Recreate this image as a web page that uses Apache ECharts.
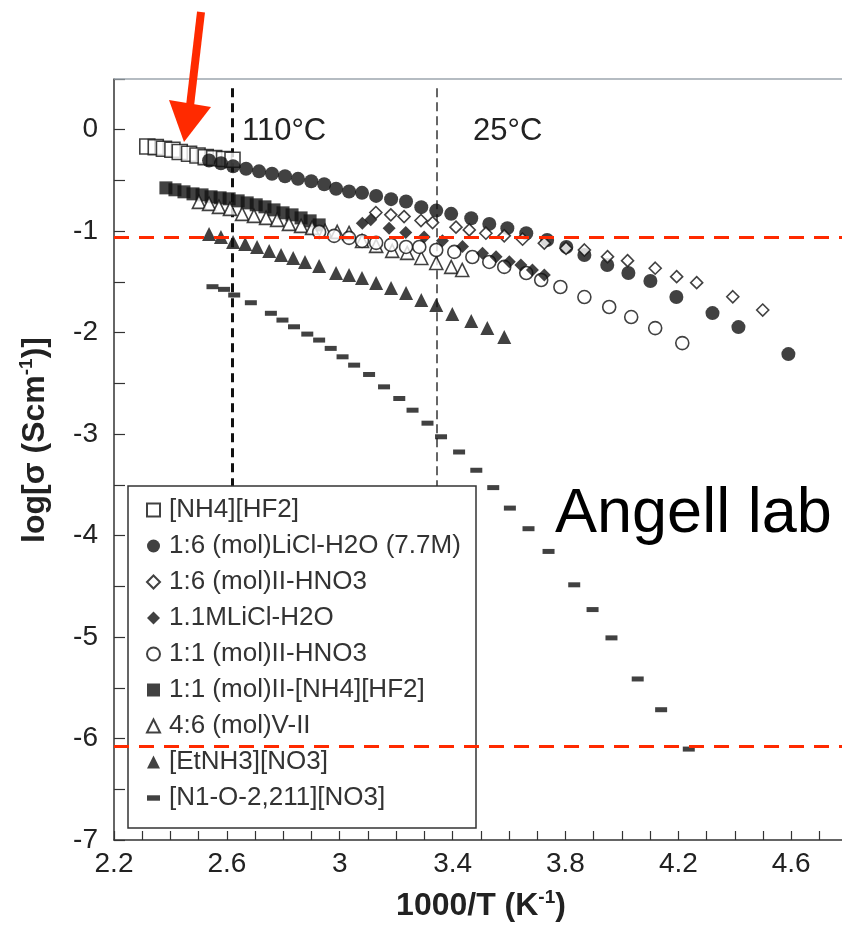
<!DOCTYPE html>
<html>
<head>
<meta charset="utf-8">
<script src="https://cdn.jsdelivr.net/npm/echarts@6.0.0/dist/echarts.min.js"></script>
<style>
  html, body { margin: 0; padding: 0; background: #fff; }
  #chart { width: 842px; height: 930px; }
</style>
</head>
<body>
<div id="chart"></div>
<script>
// x = 1000/T (K^-1), y = log[sigma (S/cm)]
const nh4hf2X = [2.318, 2.348, 2.377, 2.407, 2.433, 2.466, 2.496, 2.525, 2.555, 2.590, 2.620]
const nh4hf2Y = [-0.165, -0.171, -0.188, -0.197, -0.220, -0.237, -0.254, -0.270, -0.280, -0.289, -0.296]

const licl77X = [2.537, 2.579, 2.622, 2.668, 2.714, 2.760, 2.806, 2.852, 2.899, 2.945, 2.987, 3.033, 3.079, 3.129, 3.182, 3.235, 3.289, 3.342, 3.395, 3.466, 3.530, 3.594, 3.661, 3.735, 3.803, 3.867, 3.948, 4.023, 4.101, 4.193, 4.321, 4.413, 4.590]
const licl77Y = [-0.303, -0.331, -0.360, -0.385, -0.410, -0.434, -0.459, -0.484, -0.508, -0.538, -0.582, -0.609, -0.622, -0.652, -0.684, -0.708, -0.763, -0.797, -0.829, -0.872, -0.928, -0.970, -1.020, -1.086, -1.155, -1.234, -1.333, -1.412, -1.491, -1.649, -1.807, -1.945, -2.211]

const hno316X = [3.128, 3.181, 3.228, 3.288, 3.329, 3.412, 3.459, 3.518, 3.583, 3.648, 3.725, 3.802, 3.867, 3.949, 4.020, 4.118, 4.194, 4.265, 4.393, 4.499]
const hno316Y = [-0.816, -0.839, -0.856, -0.895, -0.915, -0.960, -0.987, -1.020, -1.046, -1.079, -1.118, -1.168, -1.185, -1.251, -1.290, -1.365, -1.448, -1.507, -1.646, -1.777]

const licl11X = [3.080, 3.110, 3.175, 3.234, 3.299, 3.364, 3.435, 3.506, 3.554, 3.601, 3.642, 3.683, 3.725]
const licl11Y = [-0.921, -0.888, -0.970, -1.014, -1.056, -1.093, -1.152, -1.217, -1.251, -1.300, -1.333, -1.382, -1.431]

const hno311X = [2.927, 2.980, 3.033, 3.079, 3.129, 3.182, 3.235, 3.282, 3.342, 3.406, 3.470, 3.530, 3.583, 3.661, 3.714, 3.782, 3.867, 3.955, 4.033, 4.118, 4.214]
const hno311Y = [-1.007, -1.046, -1.066, -1.096, -1.115, -1.135, -1.155, -1.155, -1.185, -1.204, -1.254, -1.303, -1.352, -1.412, -1.481, -1.550, -1.649, -1.747, -1.846, -1.955, -2.103]

const iiHf2X = [2.384, 2.416, 2.448, 2.480, 2.512, 2.544, 2.576, 2.608, 2.640, 2.672, 2.704, 2.735, 2.767, 2.799, 2.831, 2.863, 2.895, 2.927]
const iiHf2Y = [-0.573, -0.592, -0.612, -0.632, -0.642, -0.661, -0.671, -0.681, -0.701, -0.721, -0.740, -0.760, -0.790, -0.819, -0.839, -0.869, -0.898, -0.938]

const vIIX = [2.501, 2.537, 2.572, 2.611, 2.654, 2.696, 2.739, 2.778, 2.820, 2.863, 2.902, 2.948, 2.991, 3.033, 3.079, 3.129, 3.186, 3.239, 3.289, 3.342, 3.395, 3.434]
const vIIY = [-0.711, -0.731, -0.760, -0.780, -0.829, -0.849, -0.869, -0.888, -0.928, -0.948, -0.967, -0.997, -1.007, -1.017, -1.096, -1.145, -1.194, -1.214, -1.264, -1.313, -1.352, -1.382]

const eanX = [2.537, 2.579, 2.622, 2.665, 2.707, 2.750, 2.792, 2.835, 2.877, 2.927, 2.987, 3.033, 3.079, 3.129, 3.182, 3.235, 3.289, 3.342, 3.399, 3.466, 3.523, 3.583]
const eanY = [-1.027, -1.056, -1.106, -1.125, -1.155, -1.194, -1.234, -1.264, -1.303, -1.343, -1.412, -1.431, -1.461, -1.510, -1.560, -1.609, -1.678, -1.727, -1.816, -1.886, -1.955, -2.043]

const n1o2X = [2.549, 2.590, 2.626, 2.685, 2.756, 2.797, 2.838, 2.885, 2.927, 2.968, 3.010, 3.051, 3.104, 3.157, 3.211, 3.258, 3.311, 3.359, 3.423, 3.484, 3.544, 3.603, 3.669, 3.740, 3.831, 3.896, 3.963, 4.056, 4.139, 4.237]
const n1o2Y = [-1.547, -1.573, -1.629, -1.705, -1.809, -1.876, -1.942, -2.014, -2.073, -2.155, -2.238, -2.320, -2.412, -2.534, -2.649, -2.764, -2.892, -3.026, -3.176, -3.356, -3.527, -3.729, -3.932, -4.156, -4.485, -4.729, -5.008, -5.413, -5.716, -6.104]

const legendNames = ['[NH4][HF2]', '1:6 (mol)LiCl-H2O (7.7M)', '1:6 (mol)II-HNO3', '1.1MLiCl-H2O', '1:1 (mol)II-HNO3', '1:1 (mol)II-[NH4][HF2]', '4:6 (mol)V-II', '[EtNH3][NO3]', '[N1-O-2,211][NO3]']

// x tick labels (every 4th 0.1 tick)
const xLabels = ['2.2', '2.6', '3', '3.4', '3.8', '4.2', '4.6']

// reference lines: 110°C, 25°C and two red levels
const tempLines = [2.618, 3.345]
const redLevels = [-1.057, -6.084]

const FONT = 'Liberation Sans, Arial, Helvetica, sans-serif'
const INK = '#111'
const RED = '#ff2a00'

function pts(xs, ys) {
  return xs.map((x, i) => [x, ys[i]])
}

function scat(name, xs, ys, symbol, size, hollow) {
  return {
    name: name,
    type: 'scatter',
    data: pts(xs, ys),
    symbol: symbol,
    symbolSize: size,
    itemStyle: hollow
      ? {color: '#fff', borderColor: INK, borderWidth: 1.6}
      : {color: INK, borderColor: INK, borderWidth: 0}
  }
}

let chart = echarts.init(document.getElementById('chart'), null, {renderer: 'canvas'})

let option = {
  animation: false,
  backgroundColor: '#fff',
  grid: {left: 114, top: 79, right: 0, height: 761},
  xAxis: {
    type: 'value',
    min: 2.2,
    max: 4.78,
    interval: 0.1,
    axisLine: {onZero: false, lineStyle: {color: '#333', width: 1.5}},
    axisTick: {inside: true, length: 9, lineStyle: {color: '#333', width: 1.2}},
    axisLabel: {
      color: '#222', fontSize: 28, fontFamily: FONT, margin: 10, showMaxLabel: false,
      formatter: function (v) {
        let s = String(Math.round(v * 10) / 10)
        return xLabels.indexOf(s) >= 0 ? s : ''
      }
    },
    splitLine: {show: false}
  },
  yAxis: {
    type: 'value',
    min: -7,
    max: 0.5,
    interval: 0.5,
    axisLine: {show: true, onZero: false, lineStyle: {color: '#333', width: 1.5}},
    axisTick: {show: true, inside: true, length: 11, lineStyle: {color: '#333', width: 1.2}},
    axisLabel: {
      color: '#222', fontSize: 28, fontFamily: FONT, margin: 16,
      formatter: function (v) { return Number.isInteger(v) ? String(v) : '' }
    },
    splitLine: {show: false}
  },
  legend: {
    orient: 'vertical',
    left: 146,
    top: 497,
    padding: 0,
    itemWidth: 13,
    itemHeight: 13,
    itemGap: 10,
    selectedMode: false,
    textStyle: {fontSize: 26, lineHeight: 26, color: '#333', fontFamily: FONT, padding: [0, 0, 0, 4]},
    data: legendNames.map(function (n, i) {
      return i === 8 ? {name: n, icon: 'path://M0,0H12V5H0Z'} : {name: n}
    })
  },
  graphic: [
    // legend frame
    {type: 'rect', z: 3, shape: {x: 128, y: 486, width: 348, height: 342},
      style: {fill: '#fff', stroke: '#333', lineWidth: 1.5}},
    // top frame line
    {type: 'line', z: 3, shape: {x1: 114, y1: 79, x2: 842, y2: 79},
      style: {stroke: '#9ca6ae', lineWidth: 1.5}},
    {type: 'text', x: 242, y: 131, z: 6,
      style: {text: '110°C', fontSize: 31, fontFamily: FONT, fill: '#222', verticalAlign: 'middle'}},
    {type: 'text', x: 473, y: 131, z: 6,
      style: {text: '25°C', fontSize: 31, fontFamily: FONT, fill: '#222', verticalAlign: 'middle'}},
    {type: 'text', x: 555, y: 515, z: 6,
      style: {text: 'Angell lab', fontSize: 63, fontFamily: FONT, fill: '#000', verticalAlign: 'middle'}},
    // axis titles
    {type: 'text', x: 481, y: 905, z: 6,
      style: {
        text: '{b|1000/T (K}{s|-1}{b|)}', align: 'center', verticalAlign: 'middle',
        rich: {
          b: {fontSize: 32, fontWeight: 'bold', fontFamily: FONT, fill: '#222', lineHeight: 34, verticalAlign: 'bottom'},
          s: {fontSize: 19, fontWeight: 'bold', fontFamily: FONT, fill: '#222', lineHeight: 34, verticalAlign: 'top'}
        }
      }},
    {type: 'text', x: 34, y: 440, z: 6, rotation: Math.PI / 2,
      style: {
        text: '{b|log[σ (Scm}{s|-1}{b|)]}', align: 'center', verticalAlign: 'middle',
        rich: {
          b: {fontSize: 32, fontWeight: 'bold', fontFamily: FONT, fill: '#222', lineHeight: 34, verticalAlign: 'bottom'},
          s: {fontSize: 19, fontWeight: 'bold', fontFamily: FONT, fill: '#222', lineHeight: 34, verticalAlign: 'top'}
        }
      }},
    // red arrow
    {type: 'line', z: 10, shape: {x1: 201, y1: 12, x2: 190, y2: 106},
      style: {stroke: RED, lineWidth: 8}},
    {type: 'polygon', z: 10, shape: {points: [[169, 100], [211, 107], [184, 142]]},
      style: {fill: RED}}
  ],
  series: [
    // black dashed temperature lines, ending under the legend box
    {
      name: 'temp', type: 'scatter', data: [], z: 1,
      markLine: {
        silent: true, symbol: 'none', z: 1, animation: false,
        label: {show: false},
        data: [
          [{coord: [tempLines[0], 0.41], lineStyle: {color: '#111', width: 3, type: [9, 6]}}, {coord: [tempLines[0], -3.7]}],
          [{coord: [tempLines[1], 0.41], lineStyle: {color: '#666', width: 2, type: [9, 5]}}, {coord: [tempLines[1], -3.7]}]
        ]
      }
    },
    scat(legendNames[0], nh4hf2X, nh4hf2Y, 'rect', 15, true),
    scat(legendNames[5], iiHf2X, iiHf2Y, 'rect', 13, false),
    scat(legendNames[6], vIIX, vIIY, 'triangle', 13, true),
    scat(legendNames[7], eanX, eanY, 'triangle', 14, false),
    scat(legendNames[8], n1o2X, n1o2Y, 'rect', [12, 5], false),
    scat(legendNames[4], hno311X, hno311Y, 'circle', 13, true),
    scat(legendNames[3], licl11X, licl11Y, 'diamond', 13, false),
    scat(legendNames[1], licl77X, licl77Y, 'circle', 14, false),
    scat(legendNames[2], hno316X, hno316Y, 'diamond', 12, true),
    // red dashed levels, drawn over everything
    {
      name: 'levels', type: 'scatter', data: [], z: 10,
      markLine: {
        silent: true, symbol: 'none', z: 10, animation: false,
        label: {show: false},
        lineStyle: {color: RED, width: 3, type: [15, 10]},
        data: redLevels.map(function (v) { return {yAxis: v} })
      }
    }
  ]
}

chart.setOption(option)
</script>
</body>
</html>
